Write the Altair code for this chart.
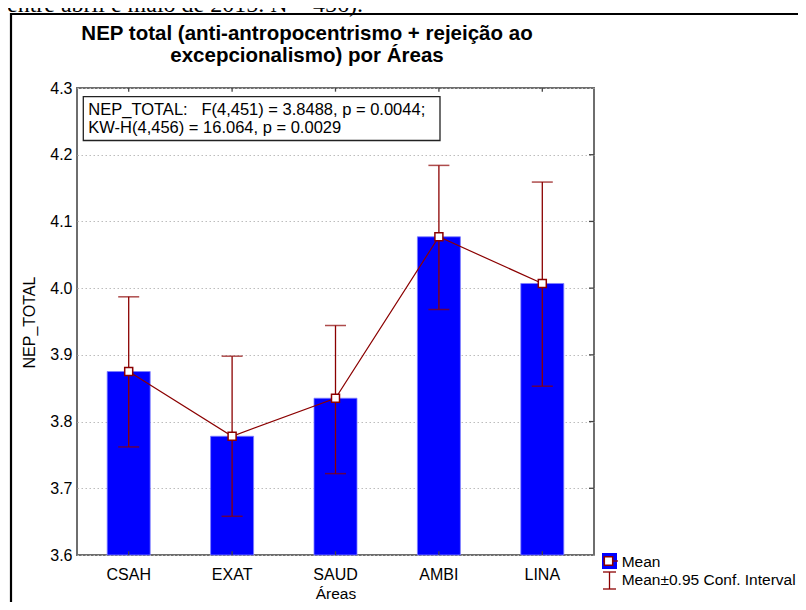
import altair as alt
import pandas as pd

# ---- data ----
areas = ["CSAH", "EXAT", "SAUD", "AMBI", "LINA"]
means = [3.875, 3.778, 3.835, 4.077, 4.007]
ci_low = [3.762, 3.658, 3.722, 3.968, 3.853]
ci_high = [3.987, 3.898, 3.944, 4.184, 4.159]
y_ticks = [3.6, 3.7, 3.8, 3.9, 4.0, 4.1, 4.2, 4.3]
grid_ticks = [3.7, 3.8, 3.9, 4.0, 4.1, 4.2]

title_lines = ["NEP total (anti-antropocentrismo + rejeição ao", "excepcionalismo) por Áreas"]
stats_lines = ["\u00a0NEP_TOTAL:\u00a0\u00a0\u00a0F(4,451) = 3.8488, p = 0.0044;",
               "KW-H(4,456) = 16.064, p = 0.0029"]
legend_labels = ["Mean", "Mean±0.95 Conf. Interval"]
cropped_caption = "entre abril e maio de 2015. N = 456)."

BLUE = "#0000FF"
RED = "#8B0000"
FONT = "Liberation Sans"

df = pd.DataFrame({"area": areas, "mean": means, "lo": ci_low, "hi": ci_high})
one = pd.DataFrame({"k": [0]})

xenc = alt.X("area:N", sort=areas,
             scale=alt.Scale(type="band", paddingInner=0, paddingOuter=0),
             axis=alt.Axis(title="Áreas", labelAngle=0, labelFontSize=16, labelColor="black",
                           labelFont=FONT, labelBaseline="alphabetic", labelPadding=24,
                           ticks=False, tickSize=0, domain=False, grid=False,
                           titleFontSize=15.5, titleFontWeight="normal", titleColor="black",
                           titleFont=FONT, titleBaseline="alphabetic", titleY=43.5))
xs = alt.X("area:N", sort=areas)
yscale = alt.Scale(domain=[3.6, 4.3], zero=False, nice=False)
yaxis = alt.Axis(title="NEP_TOTAL", values=y_ticks, format=".1f", labelFontSize=16,
                 labelColor="black", labelFont=FONT, labelPadding=5, ticks=False, tickSize=0,
                 domain=False, grid=True, gridColor="#bdbdbd", gridDash=[1.5, 2.5], gridWidth=1,
                 titleFontSize=16, titleFontWeight="normal", titleColor="black", titleFont=FONT,
                 titleAngle=270, titleBaseline="alphabetic", titleX=-43, titleY=234)

base = alt.Chart(df)

bars = base.mark_bar(color=BLUE, size=43, stroke="#7f7fff", strokeWidth=0.8).encode(
    x=xenc, y=alt.Y("mean:Q", scale=yscale, axis=yaxis), y2=alt.datum(3.6))

ci = base.mark_rule(color=RED, strokeWidth=1.3).encode(x=xs, y="lo:Q", y2="hi:Q")
cap_hi = base.mark_tick(color=RED, size=21, thickness=1.5).encode(x=xs, y="hi:Q")
cap_lo = base.mark_tick(color=RED, size=21, thickness=1.5).encode(x=xs, y="lo:Q")
line = base.mark_line(color=RED, strokeWidth=1.2).encode(x=xs, y="mean:Q")
pts = base.mark_square(size=64, filled=True, color="white", stroke=RED, strokeWidth=1.5,
                       opacity=1).encode(x=xs, y="mean:Q")

# inward tick marks on the frame
top_ticks = base.mark_rule(color="#444", strokeWidth=1.3).encode(
    x=xs, y=alt.datum(4.3), y2=alt.datum(4.2945))
bot_ticks = base.mark_rule(color="#444", strokeWidth=1.3).encode(
    x=xs, y=alt.datum(3.6), y2=alt.datum(3.6055))
right_ticks = alt.Chart(pd.DataFrame({"v": grid_ticks})).mark_rule(
    color="#444", strokeWidth=1.3).encode(x=alt.value(512), x2=alt.value(517), y="v:Q")

# outer black frame (cut by the page edges, as in the reference)
frame = alt.Chart(one).mark_rect(fill=None, stroke="black", strokeWidth=2.2).encode(
    x=alt.value(-66), x2=alt.value(800), y=alt.value(-74), y2=alt.value(600))

caption = alt.Chart(one).mark_text(align="left", baseline="alphabetic", font="Liberation Serif",
                                   fontSize=24, color="black").encode(
    x=alt.value(-70), y=alt.value(-76.5), text=alt.value(cropped_caption))

title1 = alt.Chart(one).mark_text(align="center", baseline="alphabetic", font=FONT,
                                  fontSize=20.5, fontWeight="bold", color="black").encode(
    x=alt.value(230), y=alt.value(-48.5), text=alt.value(title_lines[0]))
title2 = alt.Chart(one).mark_text(align="center", baseline="alphabetic", font=FONT,
                                  fontSize=20.5, fontWeight="bold", color="black").encode(
    x=alt.value(230), y=alt.value(-26), text=alt.value(title_lines[1]))

box = alt.Chart(one).mark_rect(fill="white", stroke="#222", strokeWidth=1.3).encode(
    x=alt.value(6.3), x2=alt.value(363), y=alt.value(8.7), y2=alt.value(52.5))
stat1 = alt.Chart(one).mark_text(align="left", baseline="alphabetic", font=FONT, fontSize=16.5,
                                 color="black").encode(
    x=alt.value(11.3), y=alt.value(27), text=alt.value(stats_lines[0]))
stat2 = alt.Chart(one).mark_text(align="left", baseline="alphabetic", font=FONT, fontSize=16.5,
                                 color="black").encode(
    x=alt.value(11.3), y=alt.value(45.3), text=alt.value(stats_lines[1]))

# manual legend
leg_blue = alt.Chart(one).mark_rect(fill=BLUE).encode(
    x=alt.value(525), x2=alt.value(540), y=alt.value(465), y2=alt.value(481))
leg_stub = alt.Chart(one).mark_rule(color=RED, strokeWidth=1.3).encode(
    x=alt.value(526), x2=alt.value(541), y=alt.value(473))
leg_sq = alt.Chart(one).mark_square(size=70, filled=True, color="white", stroke=RED,
                                    strokeWidth=1.5, opacity=1).encode(
    x=alt.value(531.5), y=alt.value(473))
leg_ci_v = alt.Chart(one).mark_rule(color=RED, strokeWidth=1.3).encode(
    x=alt.value(532.5), y=alt.value(484), y2=alt.value(501))
leg_ci_t = alt.Chart(one).mark_rule(color=RED, strokeWidth=1.3).encode(
    x=alt.value(526), x2=alt.value(539), y=alt.value(484))
leg_ci_b = alt.Chart(one).mark_rule(color=RED, strokeWidth=1.3).encode(
    x=alt.value(526), x2=alt.value(539), y=alt.value(501))
leg_t1 = alt.Chart(one).mark_text(align="left", baseline="alphabetic", font=FONT, fontSize=15.5,
                                  color="black").encode(
    x=alt.value(544.7), y=alt.value(479), text=alt.value(legend_labels[0]))
leg_t2 = alt.Chart(one).mark_text(align="left", baseline="alphabetic", font=FONT, fontSize=15.5,
                                  color="black").encode(
    x=alt.value(544.7), y=alt.value(497), text=alt.value(legend_labels[1]))

chart = alt.layer(
    frame, caption, bars, ci, cap_hi, cap_lo, line, pts, top_ticks, bot_ticks, right_ticks,
    box, stat1, stat2, title1, title2,
    leg_blue, leg_stub, leg_sq, leg_ci_v, leg_ci_t, leg_ci_b, leg_t1, leg_t2,
).properties(
    width=517, height=467,
    padding={"left": 69, "top": 80, "right": 204, "bottom": 47},
    autosize=alt.AutoSizeParams(type="none"),
    background="white",
).configure_view(
    stroke="#6e6e6e", strokeWidth=2
)

chart.save("out.html", embed_options={"renderer": "svg", "actions": False})
